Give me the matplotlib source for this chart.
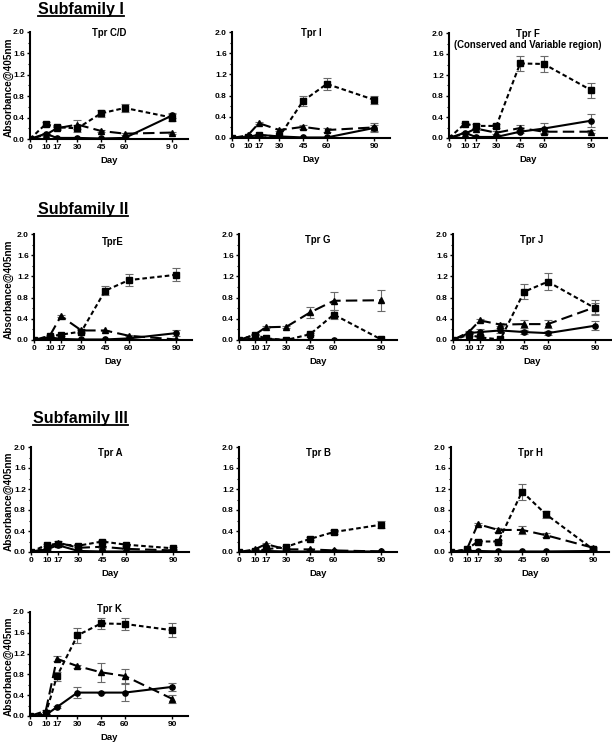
import matplotlib
matplotlib.use("Agg")
import matplotlib.pyplot as plt
from matplotlib.lines import Line2D
from matplotlib.ticker import MultipleLocator

plt.rcParams['font.family'] = ['Liberation Sans', 'DejaVu Sans']
plt.rcParams['font.weight'] = 'bold'

# ---------------- data ----------------
days = [0, 10, 17, 30, 45, 60, 90]
xtick_labels = ["0", "10", "17", "30", "45", "60", "90"]
xtick_labels_cd = ["0", "10", "17", "30", "45", "60", "9 0"]
yticks = [0.0, 0.4, 0.8, 1.2, 1.6, 2.0]

# Tpr C/D
cd_sq = [0.0, 0.28, 0.22, 0.20, 0.48, 0.58, 0.40]
cd_sq_err = [0.01, 0.03, 0.04, 0.06, 0.06, 0.08, 0.06]
cd_tri = [0.0, 0.08, 0.20, 0.27, 0.15, 0.10, 0.12]
cd_tri_err = [0.01, 0.02, 0.03, 0.08, 0.02, 0.02, 0.02]
cd_cir = [0.0, 0.10, 0.02, 0.02, 0.01, 0.02, 0.44]
cd_cir_err = [0.0, 0.01, 0.01, 0.01, 0.01, 0.01, 0.04]

# Tpr I
i_sq = [0.0, 0.02, 0.05, 0.03, 0.70, 1.02, 0.72]
i_sq_err = [0.0, 0.01, 0.02, 0.01, 0.09, 0.12, 0.08]
i_tri = [0.0, 0.05, 0.28, 0.15, 0.21, 0.15, 0.20]
i_tri_err = [0.0, 0.01, 0.02, 0.02, 0.04, 0.03, 0.08]
i_cir = [0.0, 0.02, 0.06, 0.03, 0.01, 0.01, 0.19]
i_cir_err = [0.0, 0.01, 0.01, 0.01, 0.0, 0.0, 0.06]

# Tpr F
f_sq = [0.0, 0.27, 0.23, 0.23, 1.42, 1.41, 0.91]
f_sq_err = [0.0, 0.02, 0.03, 0.03, 0.15, 0.15, 0.14]
f_tri = [0.0, 0.08, 0.18, 0.10, 0.19, 0.12, 0.12]
f_tri_err = [0.0, 0.01, 0.02, 0.03, 0.05, 0.03, 0.03]
f_cir = [0.0, 0.10, 0.02, 0.02, 0.12, 0.18, 0.33]
f_cir_err = [0.0, 0.01, 0.01, 0.01, 0.03, 0.10, 0.12]

# Tpr E
e_sq = [0.0, 0.07, 0.10, 0.16, 0.93, 1.13, 1.23]
e_sq_err = [0.0, 0.01, 0.02, 0.02, 0.09, 0.11, 0.12]
e_tri = [0.0, 0.08, 0.45, 0.18, 0.18, 0.08, 0.01]
e_tri_err = [0.0, 0.01, 0.02, 0.02, 0.01, 0.01, 0.01]
e_cir = [0.0, 0.05, 0.02, 0.01, 0.01, 0.03, 0.13]
e_cir_err = [0.0, 0.01, 0.01, 0.0, 0.0, 0.01, 0.05]

# Tpr G
g_sq = [0.0, 0.10, 0.03, 0.00, 0.11, 0.48, 0.01]
g_sq_err = [0.0, 0.01, 0.01, 0.0, 0.02, 0.09, 0.01]
g_tri = [0.0, 0.10, 0.24, 0.25, 0.52, 0.74, 0.75]
g_tri_err = [0.0, 0.01, 0.02, 0.02, 0.11, 0.17, 0.20]
g_cir = [0.0, 0.03, 0.02, 0.00, 0.00, 0.00, 0.00]
g_cir_err = [0.0, 0.0, 0.0, 0.0, 0.0, 0.0, 0.0]

# Tpr J
j_sq = [0.0, 0.10, 0.05, 0.01, 0.91, 1.10, 0.60]
j_sq_err = [0.0, 0.02, 0.02, 0.01, 0.14, 0.16, 0.10]
j_tri = [0.0, 0.15, 0.37, 0.29, 0.30, 0.30, 0.62]
j_tri_err = [0.0, 0.02, 0.03, 0.03, 0.08, 0.08, 0.14]
j_cir = [0.0, 0.13, 0.15, 0.18, 0.15, 0.13, 0.27]
j_cir_err = [0.0, 0.02, 0.06, 0.05, 0.03, 0.04, 0.08]

# Tpr A
a_sq = [0.0, 0.14, 0.15, 0.12, 0.20, 0.14, 0.07]
a_sq_err = [0.0, 0.02, 0.02, 0.02, 0.02, 0.02, 0.02]
a_tri = [0.0, 0.07, 0.18, 0.08, 0.10, 0.06, 0.03]
a_tri_err = [0.0, 0.01, 0.03, 0.02, 0.02, 0.01, 0.01]
a_cir = [0.0, 0.05, 0.13, 0.02, 0.01, 0.01, 0.01]
a_cir_err = [0.0, 0.01, 0.02, 0.01, 0.0, 0.0, 0.0]

# Tpr B
b_sq = [0.0, 0.02, 0.05, 0.10, 0.25, 0.38, 0.52]
b_sq_err = [0.0, 0.01, 0.01, 0.02, 0.03, 0.04, 0.07]
b_tri = [0.0, 0.05, 0.15, 0.05, 0.05, 0.03, 0.01]
b_tri_err = [0.0, 0.01, 0.02, 0.01, 0.01, 0.01, 0.0]
b_cir = [0.0, 0.01, 0.02, 0.01, 0.01, 0.01, 0.01]
b_cir_err = [0.0, 0.0, 0.0, 0.0, 0.0, 0.0, 0.0]

# Tpr H
h_sq = [0.0, 0.05, 0.20, 0.20, 1.15, 0.72, 0.05]
h_sq_err = [0.0, 0.01, 0.03, 0.03, 0.15, 0.07, 0.02]
h_tri = [0.0, 0.05, 0.53, 0.42, 0.42, 0.32, 0.08]
h_tri_err = [0.0, 0.01, 0.02, 0.03, 0.08, 0.04, 0.02]
h_cir = [0.0, 0.02, 0.02, 0.01, 0.01, 0.01, 0.02]
h_cir_err = [0.0, 0.0, 0.0, 0.0, 0.0, 0.0, 0.01]

# Tpr K
k_sq = [0.0, 0.05, 0.76, 1.55, 1.78, 1.77, 1.65]
k_sq_err = [0.0, 0.02, 0.09, 0.14, 0.11, 0.12, 0.14]
k_tri = [0.0, 0.10, 1.10, 0.96, 0.84, 0.77, 0.33]
k_tri_err = [0.0, 0.02, 0.05, 0.03, 0.18, 0.14, 0.08]
k_cir = [0.0, 0.02, 0.17, 0.45, 0.45, 0.45, 0.56]
k_cir_err = [0.0, 0.01, 0.02, 0.10, 0.0, 0.16, 0.08]

# ---------------- layout (pixels) ----------------
W, H = 612, 742
fig = plt.figure(figsize=(W / 100, H / 100), dpi=100)


def make_axes(left, top, bottom, width=158):
    return fig.add_axes([left / W, (H - bottom) / H, width / W, (bottom - top) / H])


SQ_STYLE = dict(marker='s', linestyle=(0, (2.2, 1.4)))
TRI_STYLE = dict(marker='^', linestyle=(0, (5.5, 2.5)))
CIR_STYLE = dict(marker='o', linestyle='-')


def panel(ax, title, sq, sq_e, tri, tri_e, cir, cir_e, ylabel=False,
          xlabels=xtick_labels, ylabel_x=-0.11, title_y=1.0):
    for vals, errs, st in ((cir, cir_e, CIR_STYLE), (tri, tri_e, TRI_STYLE),
                           (sq, sq_e, SQ_STYLE)):
        ax.errorbar(days, vals, yerr=errs, color='black', ecolor='#6a6a6a',
                    elinewidth=0.8, capsize=2.8, capthick=0.8, lw=1.5,
                    markersize=3.8, **st)
    ax.set_xlim(0, 100)
    ax.set_ylim(0, 2.0)
    ax.set_xticks(days)
    ax.set_xticklabels(xlabels)
    ax.set_yticks(yticks)
    ax.set_yticklabels([f"{v:.1f}" for v in yticks])
    ax.yaxis.set_minor_locator(MultipleLocator(0.2))
    for s in ('top', 'right'):
        ax.spines[s].set_visible(False)
    for s in ('left', 'bottom'):
        ax.spines[s].set_linewidth(1.5)
    ax.tick_params(axis='both', which='major', labelsize=6.0, length=2.5,
                   width=1.0, pad=1.2)
    ax.tick_params(axis='y', which='minor', length=1.8, width=0.8)
    for lab in ax.get_xticklabels() + ax.get_yticklabels():
        lab.set_fontweight('bold')
    ax.set_xlabel("Day", fontsize=6.8, fontweight='bold', labelpad=3.5)
    if ylabel:
        ax.set_ylabel("Absorbance@405nm", fontsize=7.2, fontweight='bold')
        ax.yaxis.set_label_coords(ylabel_x, 0.48)
    ax.text(0.5, title_y, title, transform=ax.transAxes, ha='center',
            va='top', fontsize=6.9, fontweight='bold', linespacing=1.1)


# Row 1
ax = make_axes(30, 32, 139)
panel(ax, "Tpr C/D", cd_sq, cd_sq_err, cd_tri, cd_tri_err, cd_cir, cd_cir_err,
      ylabel=True, xlabels=xtick_labels_cd, ylabel_x=(14 - 30) / 158, title_y=1.04)
ax = make_axes(232, 32, 138)
panel(ax, "Tpr I", i_sq, i_sq_err, i_tri, i_tri_err, i_cir, i_cir_err, title_y=1.04)
ax = make_axes(449, 33, 138)
panel(ax, "Tpr F\n(Conserved and Variable region)", f_sq, f_sq_err, f_tri,
      f_tri_err, f_cir, f_cir_err, title_y=1.04)

# Row 2
ax = make_axes(34, 234, 340)
panel(ax, "TprE", e_sq, e_sq_err, e_tri, e_tri_err, e_cir, e_cir_err,
      ylabel=True, ylabel_x=(14 - 34) / 158, title_y=0.97)
ax = make_axes(239, 234, 340)
panel(ax, "Tpr G", g_sq, g_sq_err, g_tri, g_tri_err, g_cir, g_cir_err, title_y=0.99)
ax = make_axes(453, 234, 340)
panel(ax, "Tpr J", j_sq, j_sq_err, j_tri, j_tri_err, j_cir, j_cir_err, title_y=0.99)

# Row 3
ax = make_axes(31, 447, 552)
panel(ax, "Tpr A", a_sq, a_sq_err, a_tri, a_tri_err, a_cir, a_cir_err,
      ylabel=True, ylabel_x=(14 - 31) / 158, title_y=0.99)
ax = make_axes(239, 447, 552)
panel(ax, "Tpr B", b_sq, b_sq_err, b_tri, b_tri_err, b_cir, b_cir_err, title_y=0.99)
ax = make_axes(451, 447, 552)
panel(ax, "Tpr H", h_sq, h_sq_err, h_tri, h_tri_err, h_cir, h_cir_err, title_y=0.99)

# Row 4
ax = make_axes(30, 612, 716)
panel(ax, "Tpr K", k_sq, k_sq_err, k_tri, k_tri_err, k_cir, k_cir_err,
      ylabel=True, ylabel_x=(13.5 - 30) / 158, title_y=1.08)

# Section headings (underlined)
headings = [("Subfamily I", 38, 14), ("Subfamily II", 38, 214),
            ("Subfamily III", 33, 423)]
fig.canvas.draw()
renderer = fig.canvas.get_renderer()
for txt, xp, yp in headings:
    t = fig.text(xp / W, (H - yp) / H, txt, fontsize=11.5, fontweight='bold',
                 ha='left', va='baseline')
    bb = t.get_window_extent(renderer=renderer)
    yline = (H - yp - 2.0) / H
    fig.add_artist(Line2D([bb.x0 / W, bb.x1 / W], [yline, yline],
                          color='black', lw=1.3, transform=fig.transFigure))

fig.savefig("out.png", dpi=100)
